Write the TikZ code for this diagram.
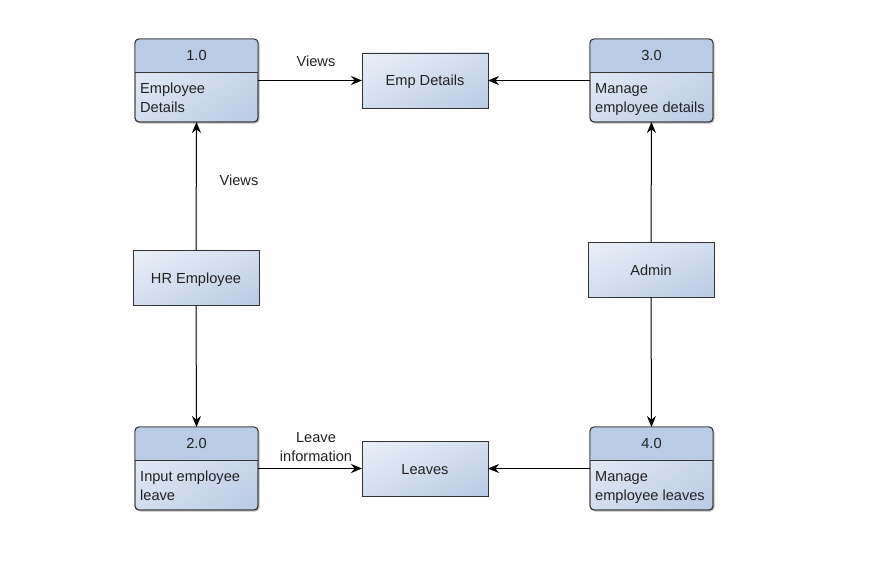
\documentclass[tikz,border=0pt]{standalone}
\usepackage{fontspec}
\setmainfont{Liberation Sans}
\usetikzlibrary{arrows.meta,shadows,shadings}
\definecolor{hdr}{HTML}{BACBE5}
\definecolor{bodyl}{HTML}{EBF0F8}
\definecolor{bodym}{HTML}{D2DDEE}
\definecolor{bodyr}{HTML}{B9CAE3}
\definecolor{edge}{HTML}{333333}
\definecolor{txt}{HTML}{222222}
\tikzset{
  grad/.style={upper left=bodyl, upper right=bodym, lower left=bodym, lower right=bodyr},
  procbox/.style={draw=edge, line width=0.9pt, rounded corners=4pt, minimum width=123pt, minimum height=83pt,
    inner sep=0pt, outer sep=0pt, grad,
    drop shadow={shadow xshift=1.5pt, shadow yshift=-1.5pt, fill=black, opacity=0.25}},
  storebox/.style={draw=edge, line width=0.9pt, minimum width=126pt, minimum height=55pt,
    inner sep=0pt, outer sep=0pt, grad, text=txt, text height=11pt, text depth=0pt,
    font=\fontsize{14.6pt}{19pt}\selectfont},
  numtxt/.style={text=txt, font=\fontsize{14.6pt}{19pt}\selectfont},
  bodytxt/.style={text=txt, font=\fontsize{14.6pt}{19pt}\selectfont, align=left, anchor=north west, inner sep=0pt},
  lbl/.style={text=txt, font=\fontsize{14.6pt}{19pt}\selectfont, align=center, inner sep=0pt},
  flow/.style={draw=black, line width=1pt, -{Stealth[length=11pt,width=9pt]}}
}
\newcommand{\procdeco}[3]{%
  \begin{scope}
    \clip[rounded corners=4pt] (#1.north west) rectangle (#1.south east);
    \fill[hdr] (#1.north west) rectangle ([yshift=-33pt]#1.north east);
  \end{scope}
  \draw[edge, line width=0.9pt, rounded corners=4pt] (#1.north west) rectangle (#1.south east);
  \draw[edge, line width=0.9pt] ([yshift=-33pt]#1.north west) -- ([yshift=-33pt]#1.north east);
  \node[numtxt] (#1n) at ([yshift=-16pt]#1.north) {#2};
  \node[bodytxt] (#1t) at ([xshift=5pt,yshift=-44pt]#1.north west) {#3};
}
\begin{document}
\begin{tikzpicture}[x=1pt,y=-1pt]
\useasboundingbox (0,0) rectangle (882,567);
% process boxes
\node[procbox] (p1) at (196.5,80.5) {};
\procdeco{p1}{1.0}{Employee\\Details}
\node[procbox] (p3) at (651.5,80.5) {};
\procdeco{p3}{3.0}{Manage\\employee details}
\node[procbox] (p2) at (196.5,468.5) {};
\procdeco{p2}{2.0}{Input employee\\leave}
\node[procbox] (p4) at (651.5,468.5) {};
\procdeco{p4}{4.0}{Manage\\employee leaves}
% stores / entities
\node[storebox] (emp) at (425,80.5) {Emp Details};
\node[storebox] (lv) at (425,468.5) {Leaves};
\node[storebox] (hr) at (196,278) {HR Employee};
\node[storebox] (ad) at (651,269.5) {Admin};
% flows
\draw[flow] (p1.east) -- (emp.west);
\draw[flow] (p3.west) -- (emp.east);
\draw[flow] (hr.north) -- (p1.south);
\draw[flow] (hr.south) -- (p2.north);
\draw[flow] (ad.north) -- (p3.south);
\draw[flow] (ad.south) -- (p4.north);
\draw[flow] (p2.east) -- (lv.west);
\draw[flow] (p4.west) -- (lv.east);
% labels
\node[lbl] (l1) at (316,61) {Views};
\node[lbl] (l2) at (239,180) {Views};
\node[lbl] (l3) at (316,447) {Leave\\information};
\end{tikzpicture}
\end{document}
